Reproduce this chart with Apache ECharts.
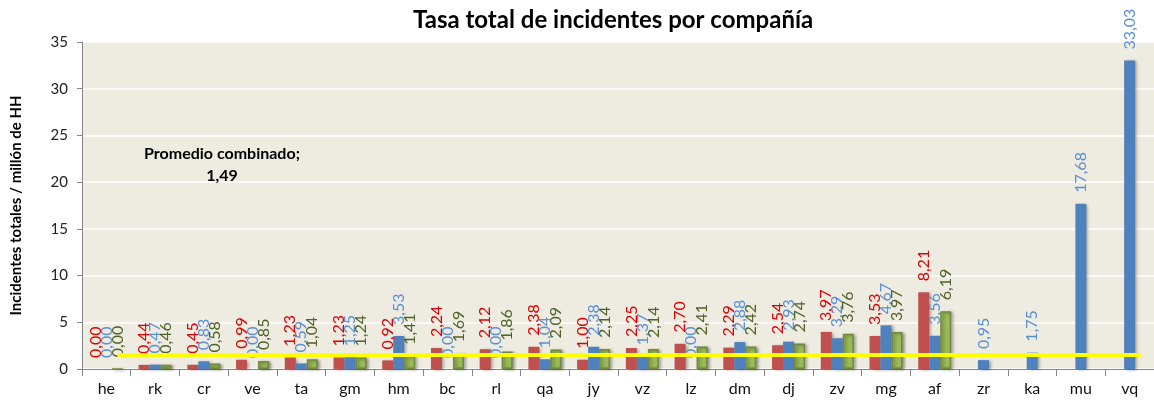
<!DOCTYPE html>
<html>
<head>
<meta charset="utf-8">
<script src="https://cdn.jsdelivr.net/npm/echarts@6/dist/echarts.min.js"></script>
<style>
  html, body { margin: 0; padding: 0; background: #fff; }
  #main { width: 1154px; height: 405px; }
</style>
</head>
<body>
<div id="main"></div>
<script>
// compañías
const companias = ['he', 'rk', 'cr', 've', 'ta', 'gm', 'hm', 'bc', 'rl', 'qa', 'jy',
  'vz', 'lz', 'dm', 'dj', 'zv', 'mg', 'af', 'zr', 'ka', 'mu', 'vq'];

// tres series (rojo, azul, verde)
const serieRoja = [0.00, 0.44, 0.45, 0.99, 1.23, 1.23, 0.92, 2.24, 2.12, 2.38, 1.00,
  2.25, 2.70, 2.29, 2.54, 3.97, 3.53, 8.21, null, null, null, null];
const serieAzul = [0.00, 0.47, 0.83, 0.00, 0.59, 1.25, 3.53, 0.00, 0.00, 1.04, 2.38,
  1.37, 0.00, 2.88, 2.93, 3.29, 4.67, 3.56, 0.95, 1.75, 17.68, 33.03];
const serieVerde = [0.00, 0.46, 0.58, 0.85, 1.04, 1.24, 1.41, 1.69, 1.86, 2.09, 2.14,
  2.14, 2.41, 2.42, 2.74, 3.76, 3.97, 6.19, null, null, null, null];

const promedio = 1.49;
const yTicks = [0, 5, 10, 15, 20, 25, 30, 35];

const fuente = 'Lato, "Open Sans", sans-serif';
const fmt = (v) => v.toFixed(2).replace('.', ',');

function etiqueta(color) {
  return {
    show: true,
    position: 'top',
    distance: 11,
    rotate: 90,
    align: 'left',
    verticalAlign: 'middle',
    color: color,
    fontFamily: fuente,
    fontSize: 16,
    formatter: (p) => fmt(p.value)
  };
}

const sombra = {
  shadowBlur: 3,
  shadowOffsetX: 2,
  shadowOffsetY: 1,
  shadowColor: 'rgba(0,0,0,0.35)'
};

const myChart = echarts.init(document.getElementById('main'));
const option = {
  animation: false,
  title: {
    text: 'Tasa total de incidentes por compañía',
    left: 408,
    top: 3,
    textStyle: { fontFamily: fuente, fontSize: 24, fontWeight: 'bold', color: '#000' }
  },
  grid: {
    left: 82,
    right: -6,
    top: 42,
    bottom: 36,
    show: true,
    backgroundColor: '#eeece1',
    borderWidth: 0
  },
  graphic: [{
    type: 'text',
    x: 222,
    y: 143,
    z: 10,
    style: {
      text: 'Promedio combinado;\n1,49',
      align: 'center',
      lineHeight: 22,
      font: 'bold 16px Lato, sans-serif',
      fill: '#000'
    }
  }],
  xAxis: {
    type: 'category',
    data: companias,
    axisLine: { lineStyle: { color: '#868686' } },
    axisTick: { show: true, length: 7, lineStyle: { color: '#868686' } },
    axisLabel: { margin: 12, fontFamily: fuente, fontSize: 16, color: '#111' }
  },
  yAxis: {
    type: 'value',
    min: yTicks[0],
    max: yTicks[yTicks.length - 1],
    interval: 5,
    name: 'Incidentes totales / millón de HH',
    nameLocation: 'middle',
    nameGap: 58,
    nameTextStyle: { fontFamily: fuente, fontSize: 15, fontWeight: 'bold', color: '#000' },
    axisLine: { show: true, lineStyle: { color: '#868686' } },
    axisTick: { show: true, length: 5, lineStyle: { color: '#868686' } },
    axisLabel: { margin: 14, fontFamily: fuente, fontSize: 15, color: '#222' },
    splitLine: { lineStyle: { color: '#ffffff', width: 1.5 } }
  },
  series: [
    {
      name: 'rojo',
      type: 'bar',
      data: serieRoja,
      barWidth: 11,
      barGap: '0%',
      itemStyle: Object.assign({ color: '#c0504d' }, sombra),
      label: etiqueta('#e00000')
    },
    {
      name: 'azul',
      type: 'bar',
      data: serieAzul,
      barWidth: 11,
      barGap: '0%',
      itemStyle: Object.assign({ color: '#4f81bd' }, sombra),
      label: etiqueta('#5b8fd6')
    },
    {
      name: 'verde',
      type: 'bar',
      data: serieVerde,
      barWidth: 11,
      barGap: '0%',
      itemStyle: Object.assign({ color: '#9bbb59', borderColor: '#71893f', borderWidth: 1.5 }, sombra),
      label: etiqueta('#4f6228'),
      markLine: {
        silent: true,
        symbol: 'none',
        label: { show: false },
        lineStyle: { color: '#ffff00', width: 4, type: 'solid' },
        data: [[
          { xAxis: companias[0], yAxis: promedio },
          { xAxis: companias[companias.length - 1], yAxis: promedio }
        ]]
      }
    }
  ]
};
myChart.setOption(option);
</script>
</body>
</html>
